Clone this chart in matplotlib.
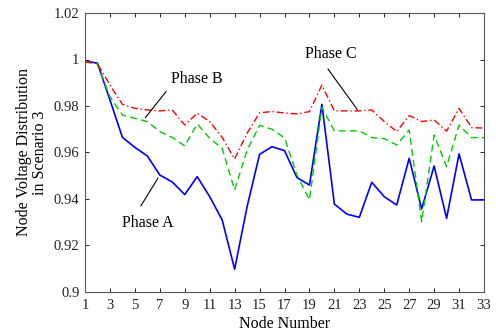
import matplotlib
matplotlib.use("Agg")
import matplotlib.pyplot as plt
import numpy as np

nodes = list(range(1, 34))
phase_a = [0.9994, 0.9984, 0.9826, 0.9665, 0.9622, 0.9585, 0.9503, 0.9473, 0.9419, 0.9496,
           0.9410, 0.9310, 0.9098, 0.9367, 0.9592, 0.9625, 0.9608, 0.9492, 0.9460, 0.9807,
           0.9378, 0.9335, 0.9321, 0.9472, 0.9410, 0.9374, 0.9575, 0.9357, 0.9542, 0.9317,
           0.9594, 0.9396, 0.9396]
phase_b = [0.9989, 0.9980, 0.9840, 0.9761, 0.9747, 0.9733, 0.9690, 0.9665, 0.9628, 0.9723,
           0.9661, 0.9618, 0.9439, 0.9610, 0.9717, 0.9700, 0.9663, 0.9503, 0.9396, 0.9794,
           0.9693, 0.9693, 0.9693, 0.9664, 0.9660, 0.9632, 0.9697, 0.9302, 0.9675, 0.9539,
           0.9718, 0.9664, 0.9664]
phase_c = [0.9992, 0.9982, 0.9890, 0.9807, 0.9790, 0.9783, 0.9779, 0.9783, 0.9718, 0.9769,
           0.9733, 0.9665, 0.9572, 0.9683, 0.9771, 0.9776, 0.9770, 0.9766, 0.9776, 0.9890,
           0.9779, 0.9779, 0.9779, 0.9783, 0.9733, 0.9690, 0.9759, 0.9733, 0.9740, 0.9692,
           0.9790, 0.9707, 0.9705]

xticks = list(range(1, 34, 2))
yticks = [0.9, 0.92, 0.94, 0.96, 0.98, 1.0, 1.02]
ytick_labels = ["0.9", "0.92", "0.94", "0.96", "0.98", "1", "1.02"]

plt.rcParams['font.family'] = ['Liberation Serif', 'DejaVu Serif']

fig = plt.figure(figsize=(4.96, 3.36), dpi=100)
ax = fig.add_axes([0.1714, 0.131, 0.8044, 0.8303])

ax.plot(nodes, phase_a, color='#0000ff', lw=1.2, ls='-')
ax.plot(nodes, phase_b, color='#00cc00', lw=1.0, ls=(0, (5, 3)))
ax.plot(nodes, phase_c, color='#ff0000', lw=1.0, ls=(0, (5, 2, 1, 2)))

ax.set_xlim(1, 33)
ax.set_ylim(0.9, 1.02)
ax.set_xticks(xticks)
ax.set_xticklabels([str(t) for t in xticks])
ax.set_yticks(yticks)
ax.set_yticklabels(ytick_labels)
ax.tick_params(direction='in', top=True, right=True, labelsize=10.5, length=3,
               width=0.7, colors='#222222')
ax.tick_params(axis='x', pad=5)
ax.tick_params(axis='y', pad=4)
for s in ax.spines.values():
    s.set_color('#555555')
    s.set_linewidth(0.8)

ax.set_xlabel('Node Number', fontsize=11.5, labelpad=3)
ax.set_ylabel('Node Voltage Distribution\nin Scenario 3', fontsize=11.5, labelpad=4,
              linespacing=1.0)

ax.annotate('', xy=(22.97, 0.9775), xytext=(20.35, 0.9969),
            arrowprops=dict(arrowstyle='-', color='black', lw=0.8))
ax.text(20.7, 1.0024, 'Phase C', fontsize=11.5, ha='center', va='center')
ax.annotate('', xy=(5.69, 0.974), xytext=(7.65, 0.9872),
            arrowprops=dict(arrowstyle='-', color='black', lw=0.8))
ax.text(10.0, 0.9916, 'Phase B', fontsize=11.5, ha='center', va='center')
ax.annotate('', xy=(6.97, 0.950), xytext=(5.36, 0.936),
            arrowprops=dict(arrowstyle='-', color='black', lw=0.8))
ax.text(6.06, 0.9297, 'Phase A', fontsize=11.5, ha='center', va='center')

fig.savefig('out.png', dpi=100)
